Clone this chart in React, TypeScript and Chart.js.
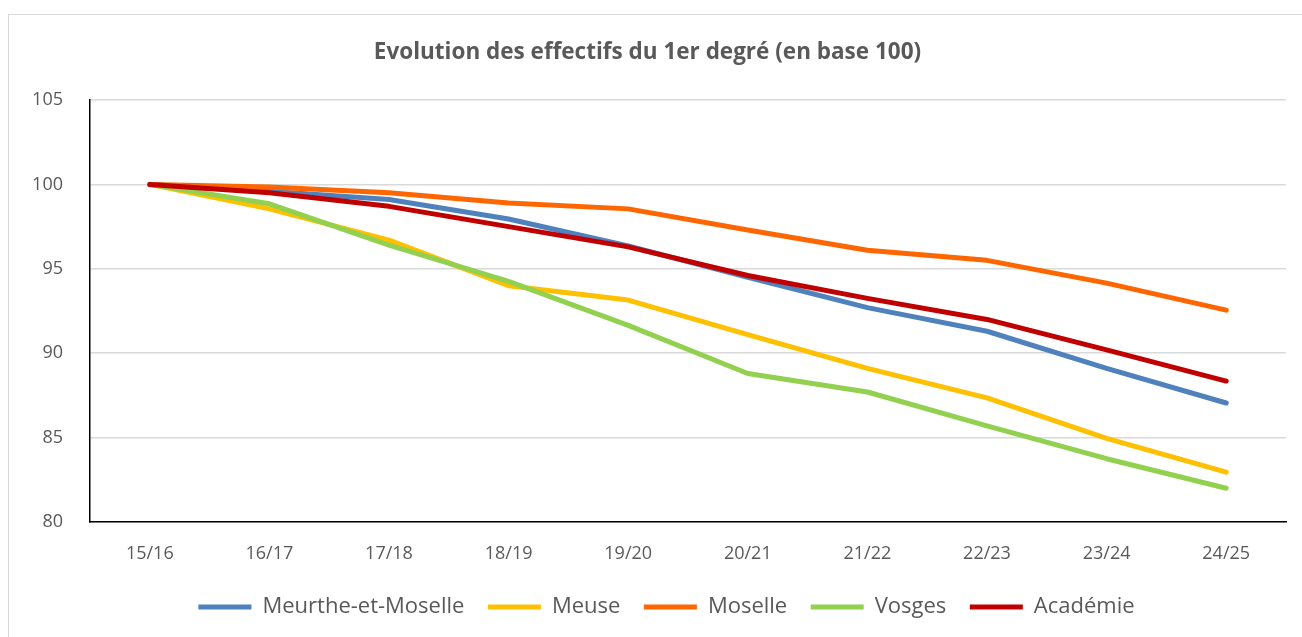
import React, { useEffect, useRef } from "react";
import { Chart, registerables } from "chart.js";

Chart.register(...registerables);

const categories = ["15/16", "16/17", "17/18", "18/19", "19/20", "20/21", "21/22", "22/23", "23/24", "24/25"];
const meurtheEtMoselle = [100, 99.6, 99.1, 97.95, 96.35, 94.5, 92.7, 91.3, 89.1, 87.05];
const meuse = [100, 98.55, 96.7, 94.0, 93.15, 91.1, 89.1, 87.35, 84.95, 82.95];
const moselle = [100, 99.85, 99.5, 98.9, 98.55, 97.3, 96.1, 95.5, 94.15, 92.55];
const vosges = [100, 98.85, 96.4, 94.25, 91.65, 88.8, 87.7, 85.7, 83.75, 82.0];
const academie = [100, 99.5, 98.7, 97.5, 96.3, 94.6, 93.25, 92.0, 90.2, 88.35];
const yTicks = [80, 85, 90, 95, 100, 105];

const FONT = "'Open Sans', 'Liberation Sans', sans-serif";
const TEXT = "#595959";

const legendFix = {
  id: "legendFix",
  beforeLayout(chart: any) {
    const lg = chart.legend;
    if (lg && !lg._patched) {
      const orig = lg.fit.bind(lg);
      lg.fit = function () {
        orig();
        this.height = 54.5;
        if (this.lineWidths && this.lineWidths.length) this.lineWidths[0] -= 38;
      };
      lg._patched = true;
    }
  },
};

export default function App() {
  const ref = useRef<HTMLCanvasElement | null>(null);

  useEffect(() => {
    if (!ref.current) return;
    const series = [
      { label: "Meurthe-et-Moselle", data: meurtheEtMoselle, color: "#4F81BD" },
      { label: "Meuse", data: meuse, color: "#FFC000" },
      { label: "Moselle", data: moselle, color: "#FF6600" },
      { label: "Vosges", data: vosges, color: "#92D050" },
      { label: "Académie", data: academie, color: "#C00000" },
    ];
    const chart = new Chart(ref.current, {
      type: "line",
      data: {
        labels: categories,
        datasets: series.map((s, i) => ({
          label: s.label,
          data: s.data,
          borderColor: s.color,
          backgroundColor: s.color,
          borderWidth: 5,
          pointRadius: 0,
          pointHoverRadius: 0,
          borderCapStyle: "round",
          borderJoinStyle: "round",
          tension: 0,
          fill: false,
          order: series.length - i,
        })),
      },
      plugins: [legendFix],
      options: {
        responsive: false,
        animation: false,
        layout: { padding: { top: 0, left: 0, right: 15, bottom: 10 } },
        plugins: {
          title: {
            display: true,
            text: "Evolution des effectifs du 1er degré (en base 100)",
            color: TEXT,
            font: { family: FONT, size: 22.5, weight: "bold" },
            padding: { top: 24.5, bottom: 33.5 },
          },
          legend: {
            position: "bottom",
            labels: {
              color: TEXT,
              font: { family: FONT, size: 22 },
              usePointStyle: true,
              pointStyle: "line",
              pointStyleWidth: 53,
              boxHeight: 22,
              padding: 23.5,
              sort: (a: any, b: any) => a.datasetIndex - b.datasetIndex,
            },
          },
          tooltip: { enabled: false },
        },
        scales: {
          x: {
            offset: true,
            afterFit: (axis: any) => {
              axis.height = 50.5;
            },
            grid: { display: false, drawTicks: false },
            border: { display: true, color: "#000000", width: 1.5 },
            ticks: {
              color: TEXT,
              font: { family: FONT, size: 18 },
              padding: 21,
              maxRotation: 0,
            },
          },
          y: {
            min: 80,
            max: 105,
            afterBuildTicks: (axis: any) => {
              axis.ticks = yTicks.map((v) => ({ value: v }));
            },
            afterFit: (axis: any) => {
              axis.width = 81;
            },
            grid: { color: "#D9D9D9", lineWidth: 1.5, drawTicks: false },
            border: { display: true, color: "#000000", width: 1.5 },
            ticks: {
              color: TEXT,
              font: { family: FONT, size: 18 },
              padding: 27,
            },
          },
        },
      },
    });
    return () => chart.destroy();
  }, []);

  return (
    <div
      style={{
        position: "absolute",
        top: 14,
        left: 8,
        width: 1300,
        height: 640,
        border: "1px solid #D9D9D9",
        background: "#fff",
      }}
    >
      <canvas ref={ref} width={1292} height={622} style={{ display: "block" }} />
    </div>
  );
}
